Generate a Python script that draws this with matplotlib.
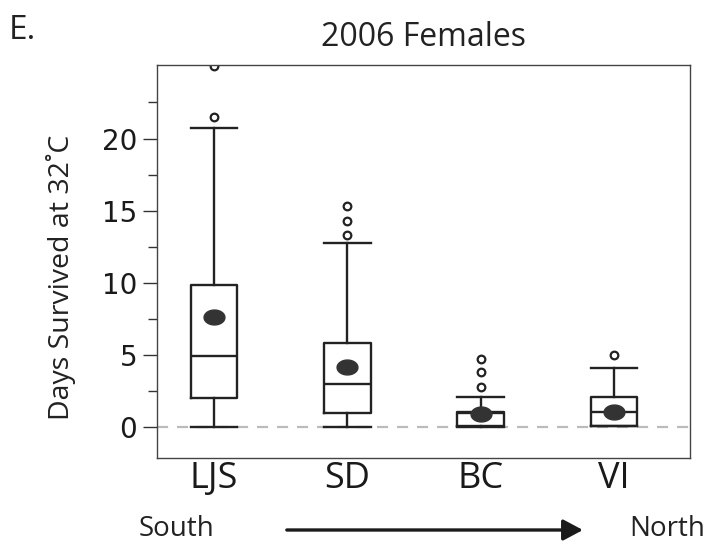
import matplotlib
import matplotlib.pyplot as plt
import numpy as np
from matplotlib.path import Path

matplotlib.use('Agg')

# box summary values (days survived)
sites = ["LJS", "SD", "BC", "VI"]
medians = [4.95, 3.0, 1.0, 1.05]
q1s = [2.0, 0.95, 0.1, 0.1]
q3s = [9.85, 5.85, 1.05, 2.1]
whisker_lo = [0.0, 0.0, 0.0, 0.1]
whisker_hi = [20.7, 12.75, 2.1, 4.1]
means = [7.6, 4.15, 0.9, 1.05]
outliers = [[21.5, 25.0], [13.3, 14.3, 15.3], [2.8, 3.8, 4.7], [5.0]]

line_col = '#222222'

stats = []
for i, name in enumerate(sites):
    stats.append({
        'label': name,
        'med': medians[i],
        'q1': q1s[i],
        'q3': q3s[i],
        'whislo': whisker_lo[i],
        'whishi': whisker_hi[i],
        'mean': means[i],
        'fliers': np.array(outliers[i]),
    })

# wide ellipse marker for the means
t = np.linspace(0, 2 * np.pi, 60)
ellipse = Path(np.column_stack([1.4 * np.cos(t), np.sin(t)]), closed=True)

fig = plt.figure(figsize=(7.1, 5.46), dpi=100)
ax = fig.add_axes([0.2211, 0.1612, 0.7507, 0.7198])

positions = np.arange(1, len(sites) + 1)
ax.axhline(0, color='#bbbbbb', lw=1.6, dashes=(5, 4), zorder=0)

ax.bxp(stats, positions=positions, widths=0.35, capwidths=0.35,
       showmeans=True, showfliers=True, manage_ticks=False,
       boxprops=dict(color=line_col, lw=1.7),
       whiskerprops=dict(color=line_col, lw=1.7),
       capprops=dict(color=line_col, lw=1.7),
       medianprops=dict(color=line_col, lw=1.7),
       meanprops=dict(marker=ellipse, markersize=15, markerfacecolor='#333333',
                      markeredgecolor='#333333'),
       flierprops=dict(marker='o', markersize=5.5, markerfacecolor='white',
                       markeredgecolor=line_col, markeredgewidth=1.6))

ax.set_xlim(0.572, 4.57)
ax.set_ylim(-2.15, 25.1)

ax.set_yticks([0, 5, 10, 15, 20])
ax.set_yticks(np.arange(0, 25, 2.5), minor=True)
ax.tick_params(axis='y', which='major', length=10, width=1, color='#333333',
               pad=4.3, labelsize=20)
ax.tick_params(axis='y', which='minor', length=6.5, width=1, color='#333333')
for lab in ax.get_yticklabels():
    lab.set_family('DejaVu Sans')
    lab.set_color('#1a1a1a')

ax.set_xticks(positions)
ax.set_xticklabels(sites, family='Open Sans', fontsize=26, color='#1a1a1a')
ax.tick_params(axis='x', length=0, pad=2)

for sp in ax.spines.values():
    sp.set_color('#444444')
    sp.set_linewidth(1)

ax.set_ylabel("Days Survived at 32˚C", family=['Open Sans', 'DejaVu Sans'],
              fontsize=20.5, color='#222222')
ax.yaxis.set_label_coords(-0.152, 0.46)

ax.set_title("2006 Females", family='Open Sans', fontsize=23, color='#222222', pad=14)
fig.text(0.013, 0.928, "E.", family='Open Sans', fontsize=24, color='#222222')

# south -> north arrow below the axes
fig.text(0.249, 0.031, "South", family='Open Sans', fontsize=20, color='#222222',
         ha='center', va='center')
fig.text(0.939, 0.031, "North", family='Open Sans', fontsize=20, color='#222222',
         ha='center', va='center')
ax.annotate('', xy=(0.821, 0.0293), xytext=(0.404, 0.0293),
            xycoords='figure fraction', textcoords='figure fraction',
            arrowprops=dict(arrowstyle='-|>,head_length=0.6,head_width=0.32',
                            mutation_scale=20, lw=2.4, color='#1a1a1a',
                            shrinkA=0, shrinkB=0))

plt.savefig('out.png', dpi=100)
plt.close()
